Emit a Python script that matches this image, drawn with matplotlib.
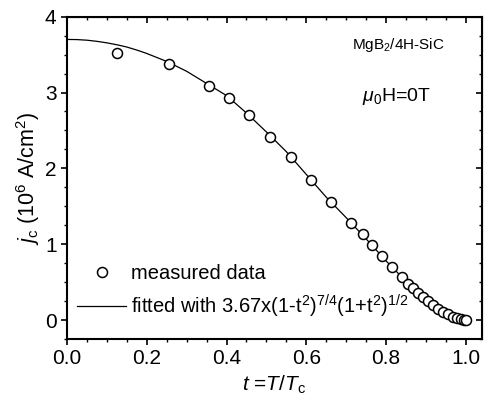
import matplotlib
matplotlib.use("Agg")
import matplotlib.pyplot as plt
from matplotlib.ticker import MultipleLocator, FormatStrFormatter

plt.rcParams['font.family'] = ['Liberation Sans', 'DejaVu Sans']
plt.rcParams['mathtext.fontset'] = 'custom'
plt.rcParams['mathtext.rm'] = 'Liberation Sans'
plt.rcParams['mathtext.it'] = 'Liberation Sans:italic'

# measured data
t_meas = [0.126, 0.255, 0.356, 0.406, 0.457, 0.509, 0.561, 0.611, 0.663, 0.713,
          0.741, 0.766, 0.791, 0.816, 0.839, 0.855, 0.867, 0.880, 0.892, 0.905,
          0.917, 0.930, 0.942, 0.955, 0.967, 0.978, 0.988, 0.995, 1.000]
jc_meas = [3.52, 3.37, 3.09, 2.93, 2.70, 2.42, 2.15, 1.85, 1.56, 1.28,
           1.14, 0.99, 0.84, 0.70, 0.57, 0.48, 0.42, 0.36, 0.30, 0.245,
           0.195, 0.15, 0.11, 0.075, 0.045, 0.025, 0.012, 0.005, 0.0]

# fitted curve
t_fit = [0.0, 0.025, 0.05, 0.075, 0.10, 0.125, 0.15, 0.175, 0.20, 0.25, 0.30,
         0.35, 0.40, 0.45, 0.50, 0.55, 0.60, 0.65, 0.70, 0.75, 0.80, 0.85,
         0.90, 0.925, 0.95, 0.975, 1.0]
jc_fit = [3.70, 3.698, 3.69, 3.675, 3.655, 3.63, 3.60, 3.56, 3.515, 3.41, 3.28,
          3.12, 2.96, 2.73, 2.48, 2.22, 1.92, 1.62, 1.35, 1.07, 0.78, 0.51,
          0.27, 0.17, 0.087, 0.027, 0.0]

fig = plt.figure(figsize=(4.84, 4.05), dpi=100)
ax = fig.add_axes([0.1384, 0.163, 0.857, 0.7958])

ax.plot(t_meas, jc_meas, linestyle='none', marker='o', markersize=7.2,
        markerfacecolor='white', markeredgecolor='black', markeredgewidth=1.1,
        label='measured data', zorder=3)
ax.plot(t_fit, jc_fit, color='black', linewidth=0.9,
        label=r'fitted with 3.67x(1-t$^{2}$)$^{7/4}$(1+t$^{2}$)$^{1/2}$', zorder=2)

ax.set_xlim(0.0, 1.04)
ax.set_ylim(-0.25, 4.0)
ax.xaxis.set_major_locator(MultipleLocator(0.2))
ax.xaxis.set_minor_locator(MultipleLocator(0.05))
ax.yaxis.set_major_locator(MultipleLocator(1))
ax.yaxis.set_minor_locator(MultipleLocator(0.25))
ax.xaxis.set_major_formatter(FormatStrFormatter('%.1f'))

for s in ax.spines.values():
    s.set_linewidth(1.5)

ax.tick_params(which='major', direction='out', length=4.5, width=1.2, labelsize=15, pad=3)
ax.tick_params(which='minor', direction='out', length=2.5, width=1.0)

# mirrored ticks on top and right (pointing inward)
sx = ax.secondary_xaxis('top')
sx.xaxis.set_major_locator(MultipleLocator(0.2))
sx.xaxis.set_minor_locator(MultipleLocator(0.05))
sx.tick_params(which='major', direction='in', length=4.5, width=1.2, labeltop=False)
sx.tick_params(which='minor', direction='in', length=2.5, width=1.0)
sy = ax.secondary_yaxis('right')
sy.yaxis.set_major_locator(MultipleLocator(1))
sy.yaxis.set_minor_locator(MultipleLocator(0.25))
sy.tick_params(which='major', direction='in', length=4.5, width=1.2, labelright=False)
sy.tick_params(which='minor', direction='in', length=2.5, width=1.0)

ax.set_xlabel(r'$t$ =$T$/$T_{\rm c}$', fontsize=15, labelpad=4)
ax.set_ylabel(r'$j_{\rm c}$ (10$^{6}$ A/cm$^{2}$)', fontsize=15.5, labelpad=2)

ax.text(0.798, 0.912, r'MgB$_{2}$/4H-SiC', transform=ax.transAxes,
        fontsize=11, ha='center', va='center')
ax.text(0.795, 0.751, r'$\mu_{0}$H=0T', transform=ax.transAxes,
        fontsize=14, ha='center', va='center')

leg = ax.legend(loc='lower left', bbox_to_anchor=(0.025, 0.06), frameon=False,
                fontsize=14.5, handlelength=2.4, handletextpad=0.25,
                labelspacing=0.45, borderpad=0, borderaxespad=0)

fig.savefig('out.png', dpi=100)
